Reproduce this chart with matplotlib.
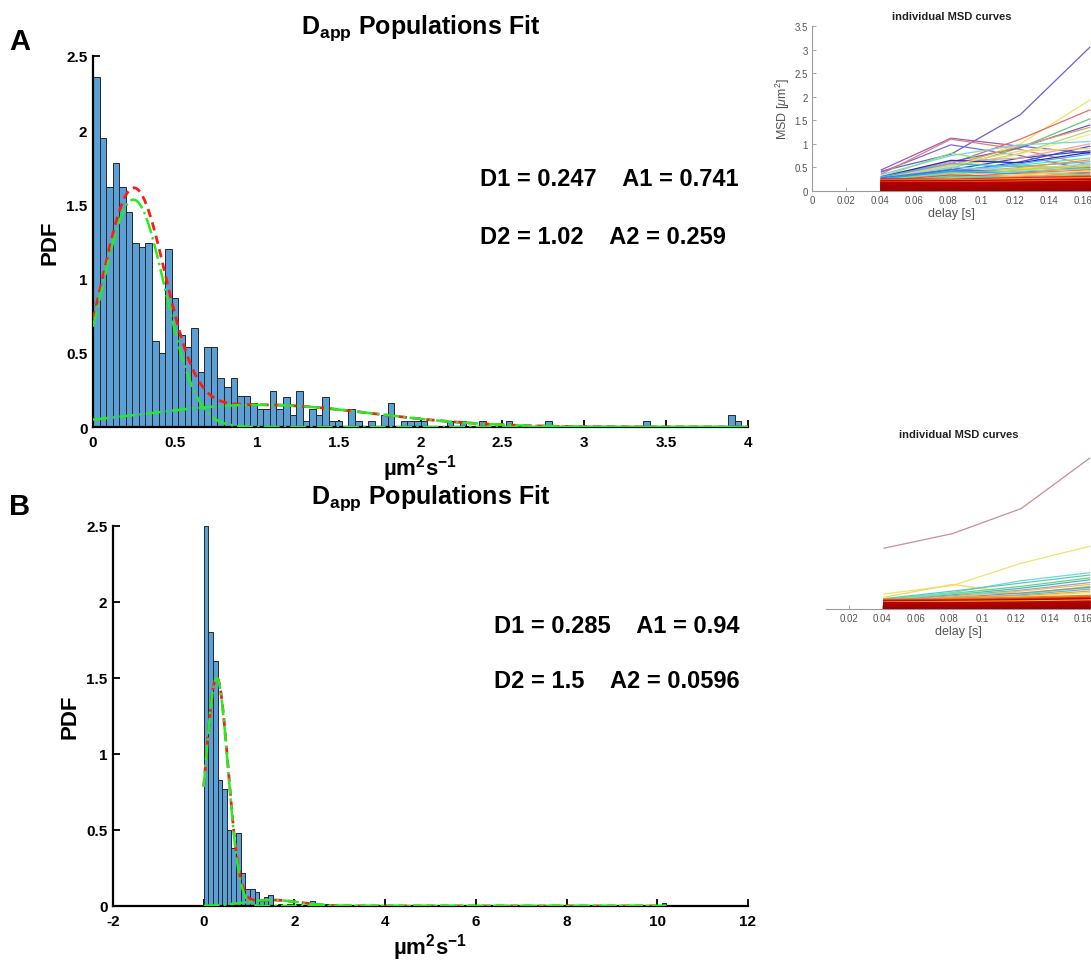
import numpy as np
import matplotlib
matplotlib.use('Agg')
import matplotlib.pyplot as plt
from matplotlib import font_manager

W, H = 1091, 962

_names = {f.name for f in font_manager.fontManager.ttflist}
NARROW = 'Liberation Sans Narrow' if 'Liberation Sans Narrow' in _names else 'Liberation Sans'
SANS = 'Liberation Sans'

plt.rcParams['font.family'] = [NARROW, 'DejaVu Sans']
plt.rcParams['mathtext.fontset'] = 'custom'
plt.rcParams['mathtext.rm'] = NARROW
plt.rcParams['mathtext.bf'] = NARROW + ':bold'
plt.rcParams['mathtext.it'] = SANS + ':italic'

# ---------------- data: panel A histogram (bin width 0.04, 0..4) ----------------
binw_a = 0.04
pdf_a = [2.36, 1.95, 1.62, 1.78, 1.62, 1.45, 1.24, 1.21, 1.24, 0.58,
         0.50, 1.20, 0.87, 0.62, 0.54, 0.67, 0.37, 0.54, 0.54, 0.33,
         0.27, 0.33, 0.21, 0.21, 0.16, 0.12, 0.12, 0.24, 0.12, 0.20,
         0.08, 0.24, 0.04, 0.12, 0.08, 0.20, 0.04, 0.04, 0.00, 0.12,
         0.04, 0.00, 0.04, 0.00, 0.08, 0.16, 0.00, 0.04, 0.04, 0.04,
         0.04, 0.00, 0.00, 0.00, 0.04, 0.00, 0.04, 0.00, 0.00, 0.04,
         0.00, 0.00, 0.00, 0.04, 0.00, 0.00, 0.00, 0.00, 0.00, 0.04,
         0.00, 0.00, 0.00, 0.00, 0.00, 0.00, 0.00, 0.00, 0.00, 0.00,
         0.00, 0.00, 0.00, 0.00, 0.04, 0.00, 0.00, 0.00, 0.00, 0.00,
         0.00, 0.00, 0.00, 0.00, 0.00, 0.00, 0.00, 0.08, 0.04, 0.00]
# fit parameters A (D, amplitude, width)
D1_a, A1_a, S1_a = 0.247, 0.741, 0.193
D2_a, A2_a, S2_a = 1.02, 0.259, 0.69

# ---------------- data: panel B histogram (bin width 0.102, 0..10.2) ----------------
binw_b = 0.102
pdf_b = [2.50, 1.80, 1.61, 0.83, 0.77, 0.50, 0.38, 0.48, 0.22, 0.11,
         0.11, 0.09, 0.03, 0.06, 0.07, 0.00, 0.01, 0.00, 0.01, 0.00,
         0.01, 0.00, 0.00, 0.03, 0.00, 0.00, 0.01] + [0.0] * 72 + [0.02]
D1_b, A1_b, S1_b = 0.285, 0.94, 0.25
D2_b, A2_b, S2_b = 1.5, 0.0596, 0.6

# ---------------- data: MSD curves ----------------
delay = [0.041, 0.082, 0.123, 0.164]

msd_top_colored = [
    ([0.42, 0.78, 1.62, 3.05], '#6a5fd0'),
    ([0.45, 1.12, 0.95, 0.80], '#9b59c8'),
    ([0.40, 0.98, 0.75, 0.45], '#7a6ad8'),
    ([0.36, 1.10, 0.88, 0.55], '#e0806a'),
    ([0.30, 0.52, 1.00, 1.93], '#f2e35a'),
    ([0.28, 0.58, 1.10, 1.72], '#e86a60'),
    ([0.22, 0.48, 0.92, 1.53], '#6cc47a'),
    ([0.30, 0.62, 0.92, 1.40], '#4f63e0'),
    ([0.28, 0.55, 0.95, 1.35], '#f09a50'),
    ([0.25, 0.50, 0.80, 1.28], '#a6dc7a'),
    ([0.25, 0.45, 0.78, 1.20], '#f5e88a'),
    ([0.35, 0.75, 0.98, 1.05], '#70d8e8'),
    ([0.30, 0.80, 0.55, 0.45], '#90e070'),
    ([0.28, 0.40, 0.62, 0.95], '#4a4ad8'),
    ([0.25, 0.45, 0.70, 0.85], '#3050c0'),
    ([0.32, 0.62, 0.70, 1.00], '#f0a0a0'),
    ([0.30, 0.65, 0.60, 0.82], '#2a2ab0'),
    ([0.26, 0.55, 0.85, 0.90], '#f8d070'),
    ([0.24, 0.42, 0.58, 0.78], '#50b0f0'),
    ([0.22, 0.40, 0.55, 0.70], '#60e0c0'),
    ([0.30, 0.58, 0.52, 0.62], '#40c0e0'),
    ([0.20, 0.38, 0.50, 0.66], '#ff9040'),
    ([0.26, 0.50, 0.45, 0.58], '#80d0ff'),
    ([0.22, 0.35, 0.48, 0.55], '#c0e060'),
    ([0.28, 0.45, 0.40, 0.50], '#5070e8'),
    ([0.20, 0.32, 0.45, 0.52], '#e8c040'),
    ([0.24, 0.38, 0.42, 0.48], '#70e0a0'),
    ([0.18, 0.30, 0.38, 0.45], '#ff7050'),
    ([0.26, 0.42, 0.36, 0.40], '#30a0e0'),
    ([0.20, 0.28, 0.35, 0.42], '#f0e040'),
    ([0.22, 0.34, 0.30, 0.38], '#e05050'),
    ([0.18, 0.26, 0.32, 0.36], '#ffb040'),
    ([0.20, 0.30, 0.28, 0.34], '#40d0d0'),
    ([0.17, 0.24, 0.28, 0.32], '#ff6030'),
]
msd_top_band = [
    ([0.25, 0.24, 0.27, 0.30], '#e03020'),
    ([0.23, 0.22, 0.25, 0.27], '#f0b030'),
    ([0.22, 0.21, 0.23, 0.25], '#d01010'),
    ([0.20, 0.20, 0.21, 0.23], '#c00000'),
    ([0.19, 0.18, 0.20, 0.21], '#f07020'),
    ([0.18, 0.17, 0.18, 0.20], '#b00000'),
    ([0.16, 0.16, 0.17, 0.18], '#c00000'),
    ([0.15, 0.14, 0.15, 0.16], '#a80000'),
    ([0.13, 0.13, 0.14, 0.15], '#b80000'),
    ([0.12, 0.11, 0.12, 0.13], '#a00000'),
    ([0.10, 0.10, 0.11, 0.12], '#b00000'),
    ([0.09, 0.08, 0.09, 0.10], '#a00000'),
    ([0.07, 0.07, 0.08, 0.09], '#b00000'),
    ([0.06, 0.05, 0.06, 0.07], '#a00000'),
    ([0.04, 0.04, 0.05, 0.05], '#b00000'),
    ([0.03, 0.03, 0.03, 0.04], '#a00000'),
    ([0.015, 0.015, 0.02, 0.02], '#a00000'),
]

msd_bot_colored = [
    ([1.29, 1.60, 2.13, 3.20], '#c98f8f'),
    ([0.32, 0.50, 0.97, 1.33], '#f2e36a'),
    ([0.25, 0.52, 0.32, 0.45], '#f0d860'),
    ([0.20, 0.35, 0.60, 0.77], '#70d8d8'),
    ([0.22, 0.38, 0.55, 0.72], '#60c8c0'),
    ([0.20, 0.33, 0.48, 0.66], '#70d070'),
    ([0.18, 0.30, 0.44, 0.62], '#40b8d0'),
    ([0.18, 0.28, 0.40, 0.56], '#a0a0c0'),
    ([0.16, 0.26, 0.38, 0.52], '#f0c050'),
    ([0.18, 0.34, 0.32, 0.48], '#80e0a0'),
    ([0.15, 0.24, 0.34, 0.46], '#9090b0'),
    ([0.14, 0.22, 0.30, 0.42], '#50c0e0'),
    ([0.16, 0.25, 0.28, 0.38], '#f0a040'),
    ([0.12, 0.20, 0.26, 0.35], '#e8e050'),
]
msd_bot_band = [
    ([0.20, 0.21, 0.24, 0.28], '#f08020'),
    ([0.18, 0.19, 0.21, 0.24], '#e03010'),
    ([0.16, 0.17, 0.19, 0.21], '#c00000'),
    ([0.14, 0.15, 0.16, 0.18], '#f0c030'),
    ([0.13, 0.13, 0.14, 0.16], '#b00000'),
    ([0.11, 0.11, 0.12, 0.14], '#c00000'),
    ([0.09, 0.09, 0.10, 0.12], '#a80000'),
    ([0.07, 0.08, 0.08, 0.09], '#b00000'),
    ([0.06, 0.06, 0.06, 0.07], '#a00000'),
    ([0.04, 0.04, 0.04, 0.05], '#b00000'),
    ([0.025, 0.025, 0.03, 0.03], '#a00000'),
    ([0.01, 0.01, 0.015, 0.015], '#a00000'),
]

BAR_COLOR = '#5e9fd3'


def rect(l, t, r, b):
    return [l / W, 1 - b / H, (r - l) / W, (b - t) / H]


def gauss(x, d, a, s):
    return a / (s * np.sqrt(2 * np.pi)) * np.exp(-(x - d) ** 2 / (2 * s ** 2))


def hist_panel(ax, pdf, bw, fit, xmax_fit):
    edges = np.arange(len(pdf)) * bw
    ax.bar(edges, pdf, width=bw, align='edge', color=BAR_COLOR,
           edgecolor='#1f2a33', linewidth=0.7, zorder=2)
    (d1, a1, s1), (d2, a2, s2) = fit
    x = np.linspace(0, xmax_fit, 600)
    c1 = gauss(x, d1, a1, s1)
    c2 = gauss(x, d2, a2, s2)
    ax.plot(x, c1 + c2, color='#ff1a1a', linestyle=(0, (3, 2)), lw=2.0, zorder=3)
    ax.plot(x, c1, color='#22ee22', linestyle='-.', lw=1.8, zorder=4)
    ax.plot(x, c2, color='#22ee22', linestyle='-.', lw=1.8, zorder=4)
    for s in ['top', 'right']:
        ax.spines[s].set_visible(False)
    for s in ['left', 'bottom']:
        ax.spines[s].set_linewidth(1.6)
        ax.spines[s].set_color('black')
    ax.tick_params(direction='in', length=5, width=1.3, labelsize=11)
    ax.tick_params(axis='x', pad=6)
    ax.tick_params(axis='y', pad=4)
    ax.set_ylim(0, 2.5)
    ax.set_yticks([0, 0.5, 1, 1.5, 2, 2.5])
    ax.set_yticklabels(['0', '0.5', '1', '1.5', '2', '2.5'], fontweight='bold')
    ax.set_ylabel('PDF', fontsize=16, fontweight='bold', labelpad=4)
    ax.set_xlabel('µm$^{\\mathbf{2}}$s$^{\\mathbf{-1}}$', fontsize=16,
                  fontweight='bold', labelpad=2)
    ax.set_title('D$_{\\mathbf{app}}$ Populations Fit', fontsize=18,
                 fontweight='bold', pad=17)


def msd_panel(ax, colored, band, xlim, show_y):
    for vals, c in colored:
        ax.plot(delay, vals, color=c, lw=0.9, zorder=2)
    for vals, c in band:
        ax.plot(delay, vals, color=c, lw=1.6, zorder=3)
    ax.set_xticks([0, 0.02, 0.04, 0.06, 0.08, 0.1, 0.12, 0.14, 0.16])
    ax.set_xticklabels(['0', '0.02', '0.04', '0.06', '0.08', '0.1', '0.12', '0.14', '0.16'])
    ax.set_xlim(*xlim)
    ax.set_ylim(0, 3.5)
    for s in ['top', 'right']:
        ax.spines[s].set_visible(False)
    for s in ['left', 'bottom']:
        ax.spines[s].set_color('#9a9a9a')
        ax.spines[s].set_linewidth(0.8)
    ax.tick_params(direction='in', length=3, width=0.6, colors='#9a9a9a',
                   labelcolor='#555555', labelsize=7, pad=3)
    for lab in ax.get_xticklabels() + ax.get_yticklabels():
        lab.set_family(SANS)
    ax.set_xlabel('delay [s]', fontsize=9, color='#555555', family=SANS, labelpad=1)
    ax.set_title('individual MSD curves', fontsize=8, fontweight='bold',
                 family=SANS, color='#222222', pad=5)
    if show_y:
        ax.set_yticks([0, 0.5, 1, 1.5, 2, 2.5, 3, 3.5])
        ax.set_yticklabels(['0', '0.5', '1', '1.5', '2', '2.5', '3', '3.5'])
        for lab in ax.get_yticklabels():
            lab.set_family(SANS)
        ax.set_ylabel('MSD [$\\mu$m$^2$]', fontsize=9, color='#555555',
                      family=SANS, labelpad=2)
    else:
        ax.spines['left'].set_visible(False)
        ax.set_yticks([])
    ax.set_ylim(0, 3.5)


fig = plt.figure(figsize=(W / 100, H / 100), dpi=100)

# panel A
axA = fig.add_axes(rect(93, 57, 748, 428))
hist_panel(axA, pdf_a, binw_a, [(D1_a, A1_a, S1_a), (D2_a, A2_a, S2_a)], 4.0)
axA.set_xticks([0, 0.5, 1, 1.5, 2, 2.5, 3, 3.5, 4])
axA.set_xticklabels(['0', '0.5', '1', '1.5', '2', '2.5', '3', '3.5', '4'], fontweight='bold')
axA.set_xlim(0, 4)
fig.text(480 / W, 1 - 180 / H, f'D1 = {D1_a:g}    A1 = {A1_a:g}', fontsize=17,
         fontweight='bold', va='center', ha='left')
fig.text(480 / W, 1 - 238 / H, f'D2 = {D2_a:g}    A2 = {A2_a:g}', fontsize=17,
         fontweight='bold', va='center', ha='left')

# panel B
axB = fig.add_axes(rect(113, 527, 748, 907))
hist_panel(axB, pdf_b, binw_b, [(D1_b, A1_b, S1_b), (D2_b, A2_b, S2_b)], len(pdf_b) * binw_b)
axB.set_xticks([-2, 0, 2, 4, 6, 8, 10, 12])
axB.set_xticklabels(['-2', '0', '2', '4', '6', '8', '10', '12'], fontweight='bold')
axB.set_xlim(-2, 12)
fig.text(494 / W, 1 - 627 / H, f'D1 = {D1_b:g}    A1 = {A1_b:g}', fontsize=17,
         fontweight='bold', va='center', ha='left')
fig.text(494 / W, 1 - 682 / H, f'D2 = {D2_b:g}    A2 = {A2_b:g}', fontsize=17,
         fontweight='bold', va='center', ha='left')

fig.text(20 / W, 1 - 42 / H, 'A', fontsize=21, fontweight='bold', family=SANS,
         ha='center', va='center')
fig.text(20 / W, 1 - 507 / H, 'B', fontsize=21, fontweight='bold', family=SANS,
         ha='center', va='center')

# MSD panels
axM1 = fig.add_axes(rect(812, 27, 1091, 192))
msd_panel(axM1, msd_top_colored, msd_top_band, (0, 0.1647), True)

axM2 = fig.add_axes(rect(826, 445, 1091, 610))
msd_panel(axM2, msd_bot_colored, msd_bot_band, (0.0062, 0.1648), False)

fig.savefig('out.png', dpi=100)
